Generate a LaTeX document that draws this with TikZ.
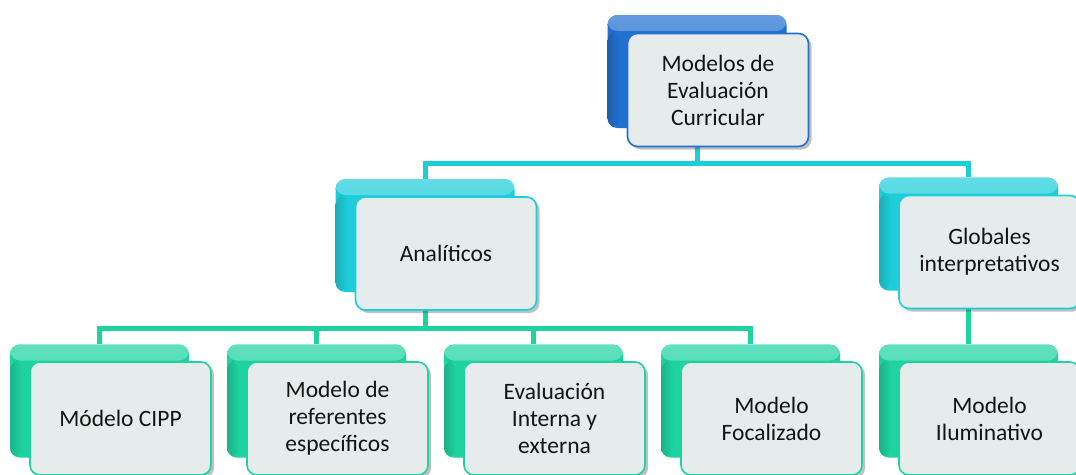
\documentclass[tikz,border=0pt]{standalone}
\usepackage{fontspec}
\setmainfont{Carlito}
\usetikzlibrary{shadows,calc}
\pgfdeclarelayer{background}
\pgfsetlayers{background,main}
\definecolor{blueC}{RGB}{34,112,208}
\definecolor{cyanC}{RGB}{30,205,218}
\definecolor{tealC}{RGB}{30,211,160}
\definecolor{frontC}{RGB}{230,236,235}
\definecolor{txtC}{RGB}{20,20,20}
\begin{document}
\begin{tikzpicture}[x=1pt,y=-1pt,
  backbox/.style={draw=none, rounded corners=10pt, minimum width=179pt, minimum height=113pt, inner sep=0pt,
     fill=#1,
     path picture={
       \shade[top color=#1!70!white, bottom color=#1]
         (path picture bounding box.north west) rectangle ([yshift=-16pt]path picture bounding box.north east);
       \shade[left color=#1!85!black, right color=#1]
         ([yshift=-16pt]path picture bounding box.north west) rectangle ([xshift=12pt]path picture bounding box.south west);
     }},
  frontbox/.style={draw=#1, line width=1.6pt, rounded corners=10pt, fill=frontC,
     minimum width=181pt, minimum height=113pt, inner sep=2pt, align=center,
     font=\fontsize{23.5pt}{27pt}\selectfont, text=txtC,
     drop shadow={shadow xshift=3pt, shadow yshift=-3pt, opacity=0.35, fill=black!70}},
  connA/.style={draw=cyanC, line width=5pt},
  connB/.style={draw=tealC, line width=5pt}]
\useasboundingbox (0,0) rectangle (1076,474);
% back boxes
\node[backbox=blueC] (topB) at (697,71.5) {};
\node[backbox=cyanC] (anaB) at (425,235.5) {};
\node[backbox=cyanC] (gloB) at (968.5,234) {};
\node[backbox=tealC] (cippB) at (99.5,401) {};
\node[backbox=tealC] (refB) at (316.5,401) {};
\node[backbox=tealC] (evaB) at (533.5,401) {};
\node[backbox=tealC] (focB) at (750.5,401) {};
\node[backbox=tealC] (iluB) at (968.5,401) {};
% connectors
\begin{pgfonlayer}{background}
\coordinate (j1) at ($(topB.south)+(0,35)$);
\coordinate (j2) at ($(anaB.south)+(0,36)$);
\draw[connA] (topB.south) -- (j1) -| (anaB.north);
\draw[connA] (j1) -| (gloB.north);
\draw[connB] (anaB.south) -- (j2) -| (cippB.north);
\draw[connB] (j2) -| (focB.north);
\draw[connB] (j2) -| (refB.north);
\draw[connB] (j2) -| (evaB.north);
\draw[connB] (gloB.south) -- (iluB.north);
\end{pgfonlayer}
% front boxes
\node[frontbox=blueC] (topF) at ($(topB)+(21,18.5)$) {Modelos de\\Evaluación\\Curricular};
\node[frontbox=cyanC] (anaF) at ($(anaB)+(21,18)$) {Analíticos};
\node[frontbox=cyanC] (gloF) at ($(gloB)+(21,18)$) {Globales\\interpretativos};
\node[frontbox=tealC] (cippF) at ($(cippB)+(21,17.5)$) {Módelo CIPP};
\node[frontbox=tealC] (refF) at ($(refB)+(21,17.5)$) {Modelo de\\referentes\\específicos};
\node[frontbox=tealC] (evaF) at ($(evaB)+(21,17.5)$) {Evaluación\\Interna y\\externa};
\node[frontbox=tealC] (focF) at ($(focB)+(21,17.5)$) {Modelo\\Focalizado};
\node[frontbox=tealC] (iluF) at ($(iluB)+(21,17.5)$) {Modelo\\Iluminativo};
\end{tikzpicture}
\end{document}
